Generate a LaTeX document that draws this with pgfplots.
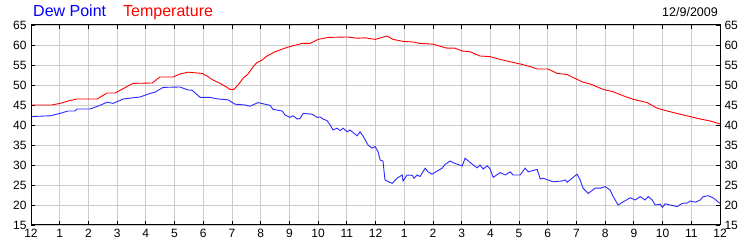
\documentclass[border=0pt]{standalone}
\usepackage{fontspec}
\setmainfont{Liberation Sans}
\usepackage{pgfplots}
\pgfplotsset{compat=1.18}
\usetikzlibrary{calc}
\definecolor{dewblue}{RGB}{40,40,255}
\definecolor{tempred}{RGB}{255,0,0}
\definecolor{gridgray}{RGB}{204,204,204}

\pgfplotstableread{
h v
0 45
0.73 45
1.01 45.4
1.29 46
1.60 46.5
2.30 46.5
2.65 48
2.93 48
3.55 50.4
4.22 50.5
4.49 52
4.95 52
5.19 52.75
5.47 53.2
5.96 52.9
6.13 52.25
6.34 51.25
6.59 50.4
6.83 49.4
6.93 48.9
7.07 48.9
7.21 50
7.39 51.7
7.56 52.75
7.74 54.6
7.87 55.6
8.05 56.25
8.22 57.25
8.50 58.3
8.92 59.4
9.44 60.4
9.72 60.4
10.00 61.4
10.35 61.9
11.01 62
11.36 61.7
11.64 61.8
11.99 61.4
12.40 62.25
12.61 61.4
12.96 60.9
13.31 60.75
13.55 60.4
14.01 60.2
14.49 59.2
14.77 59.2
15.02 58.5
15.30 58.3
15.64 57.25
15.99 57.1
16.34 56.4
16.69 55.8
17.04 55.25
17.39 54.6
17.63 54
18.01 54
18.33 52.9
18.68 52.6
19.02 51.4
19.23 50.7
19.48 50.25
19.93 48.9
20.28 48.3
20.63 47.3
20.98 46.4
21.46 45.6
21.81 44.2
22.16 43.5
22.61 42.7
22.96 42.1
23.31 41.5
23.66 41
24 40.25
}\temptable

\pgfplotstableread{
h v
0 42.1
0.66 42.3
1.01 42.9
1.29 43.5
1.53 43.5
1.60 44
2.06 44
2.40 44.9
2.65 45.7
2.86 45.4
3.21 46.5
3.80 47
4.15 47.9
4.32 48.2
4.60 49.4
5.19 49.5
5.47 48.75
5.61 48.7
5.89 46.9
6.24 46.9
6.52 46.5
6.86 46.3
7.11 45.2
7.46 45
7.63 44.7
7.91 45.6
8.15 45.2
8.33 44.9
8.43 43.9
8.75 43.5
8.85 42.5
9.02 41.9
9.13 42.3
9.27 41.5
9.37 41.6
9.48 42.9
9.79 42.7
9.97 41.9
10.07 42
10.17 41.5
10.31 41.1
10.42 40
10.52 38.75
10.66 39.2
10.77 38.6
10.87 39.2
11.01 38.3
11.11 38.75
11.36 37.3
11.46 38.3
11.57 37.2
11.74 35
11.88 34.2
11.99 34.6
12.09 33.3
12.16 31.25
12.26 31
12.33 26.25
12.58 25.4
12.75 26.7
12.93 27.5
12.96 26
13.10 27.5
13.28 27.4
13.34 26.7
13.45 27.5
13.55 27.1
13.73 29.2
13.83 28.3
13.97 27.7
14.15 28.5
14.32 29.2
14.43 30.2
14.60 31
14.77 30.4
15.02 29.75
15.12 31.7
15.37 30.2
15.54 29.3
15.64 30
15.75 29
15.89 29.8
15.99 29
16.10 26.9
16.34 28.1
16.52 27.5
16.69 28.3
16.79 27.5
17.04 27.5
17.21 29.2
17.32 28.3
17.63 28.9
17.74 26.5
17.84 26.7
18.01 26.25
18.19 25.8
18.50 26
18.61 26.25
18.68 25.7
18.85 26.7
19.02 27.7
19.13 26.25
19.23 24.2
19.41 22.9
19.65 24.2
19.83 24.2
20.00 24.6
20.17 23.75
20.28 22.1
20.45 20
20.63 20.8
20.87 21.8
21.05 21.25
21.22 22.1
21.39 21.25
21.50 22.1
21.64 21.25
21.74 20
21.92 20.2
21.99 19.4
22.09 20.3
22.26 20
22.51 19.6
22.68 20.4
22.86 20.5
22.96 21
23.14 20.7
23.31 21.25
23.41 22.1
23.59 22.3
23.76 21.8
24 20.4
}\dewtable

\begin{document}
\begin{tikzpicture}
\pgfplotsset{
  commonax/.style={
    scale only axis, width=689pt, height=200pt,
    xmin=0, xmax=24, ymin=15, ymax=65,
    ytick={15,20,...,65},
    tick align=inside, major tick length=4pt,
    tick style={black, line width=0.8pt},
    tick label style={font=\fontsize{12}{14}\selectfont},
    /pgf/number format/assume math mode=true,
    axis line style={black, line width=1pt},
  }
}
\begin{axis}[commonax, name=ax,
  xtick={0,...,24},
  xticklabels={12,1,2,3,4,5,6,7,8,9,10,11,12,1,2,3,4,5,6,7,8,9,10,11,12},
  xtick pos=both, xticklabel pos=bottom,
  ytick pos=both, yticklabel pos=left,
  grid=major, major grid style={gridgray, line width=0.8pt},
  xticklabel style={yshift=-1pt},
  yticklabel style={xshift=-1pt},
]
\addplot[tempred, line width=0.9pt] table[x=h, y=v] {\temptable};
\addplot[dewblue, line width=0.9pt] table[x=h, y=v] {\dewtable};
\end{axis}
\begin{axis}[commonax,
  xtick=\empty,
  ytick pos=right, yticklabel pos=right,
  yticklabel style={xshift=1pt},
]
\end{axis}
\node[anchor=base west, inner sep=0pt, text=blue, font=\fontsize{16}{18}\selectfont]
  at ($(ax.north west)+(2pt,8pt)$) {Dew Point};
\node[anchor=base west, inner sep=0pt, text=red, font=\fontsize{16}{18}\selectfont]
  at ($(ax.north west)+(92pt,8pt)$) {Temperature};
\node[anchor=base east, inner sep=0pt, font=\fontsize{12.5}{14}\selectfont]
  at ($(ax.north east)+(-2pt,8pt)$) {12/9/2009};
\pgfresetboundingbox
\useasboundingbox ($(ax.south west)+(-31pt,-25pt)$) rectangle ($(ax.north east)+(30pt,25pt)$);
\end{tikzpicture}
\end{document}
